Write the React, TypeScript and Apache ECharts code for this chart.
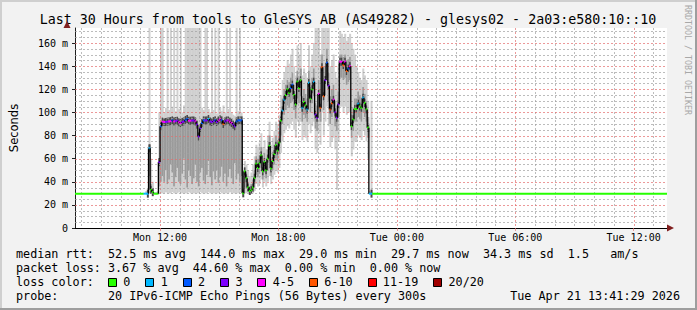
import React, { useEffect, useRef } from 'react';
import * as echarts from 'echarts';

// ---- time frame (hours since Mon 00:00) ----
const graphStartHour = 7 + 41 / 60 + 29 / 3600; // Mon 07:41:29
const graphSpanHours = 30;
const firstSampleHour = 11 + 10 / 60; // Mon 11:10
const sampleStepHours = 5 / 60;
const yMaxMs = 173;
const baselineMs = 29.7;

// ---- axis ticks ----
const xTickHours = [12, 18, 24, 30, 36];
const xTickLabels = ['Mon 12:00', 'Mon 18:00', 'Tue 00:00', 'Tue 06:00', 'Tue 12:00'];

// ---- median rtt (ms) per 5-minute step from Mon 11:10; last value lasts to the end ----
const medianMs = [
  29.7, 29.7, 29.7, 69, 33, 31, 29.7, 29.7, 29.7, 57,
  88, 92, 91.7, 91.7, 92, 92.2, 92.5, 93.1, 92.2, 92.5,
  92.8, 91.5, 90.8, 91.8, 92.2, 93.5, 94.3, 92.8, 92.8, 93,
  93, 92.2, 89.4, 79.2, 86.5, 90.8, 93.1, 93, 93.1, 94.3,
  92.2, 91.7, 92.5, 93.1, 91.7, 93, 94, 93.1, 90, 92.2,
  93, 93, 92, 90.8, 89.4, 88, 92.2, 93.1, 93.1, 93.1,
  30, 49, 43, 35, 32, 33, 35, 43.5, 55.6, 52,
  56, 62.8, 49, 57, 50, 60, 71, 51.6, 58, 64,
  71.5, 67, 74, 93, 101.7, 111, 115, 120, 117, 121,
  124, 115, 107, 126.5, 121, 127.7, 104, 109, 106, 102.6,
  125.7, 111.8, 120, 126.5, 98, 95.4, 116, 104, 139, 114,
  128, 143, 123, 102.6, 108, 111, 100, 95.4, 107, 143.8,
  143.8, 141, 143.8, 135.8, 138, 140, 88, 94, 103, 103,
  107.5, 105, 104, 112.7, 108, 102.6, 86.8, 29.7, 29.7, 29.7,
];

// ---- lost pings (of 20) per step ----
const lossCount = [
  1, 1, 1, 1, 0, 0, 0, 0, 0, 3,
  2, 5, 5, 3, 3, 5, 5, 2, 5, 3,
  3, 5, 5, 3, 3, 2, 2, 5, 5, 3,
  3, 5, 3, 3, 3, 2, 2, 3, 3, 1,
  3, 3, 3, 2, 3, 5, 5, 2, 8, 3,
  3, 5, 5, 5, 3, 3, 2, 2, 2, 2,
  0, 0, 0, 0, 0, 0, 0, 0, 0, 0,
  0, 0, 0, 0, 0, 0, 0, 0, 0, 0,
  0, 0, 0, 0, 1, 1, 0, 0, 0, 2,
  2, 0, 0, 0, 0, 0, 1, 0, 0, 1,
  1, 0, 0, 1, 3, 3, 5, 8, 8, 8,
  3, 2, 3, 8, 8, 5, 3, 3, 3, 5,
  5, 8, 5, 8, 2, 5, 0, 0, 0, 0,
  1, 0, 0, 1, 0, 0, 0, 1, 1, 0,
];

// ---- smoke: lowest ping, lower / upper dense band, highest ping (ms) ----
const smokeMin = [
  29.7, 29.5, 29.5, 30, 30, 29.5, 29.5, 29.5, 29.5, 30,
  30, 30, 30, 31, 30, 30, 30, 31, 30, 30,
  30, 31, 30, 30, 30, 30, 30, 31, 30, 30,
  30, 30, 30, 30, 31, 30, 30, 30, 30, 31,
  30, 30, 30, 30, 30, 30, 31, 30, 30, 30,
  30, 30, 31, 30, 30, 30, 30, 30, 31, 30,
  29.5, 30, 30, 30, 30, 30, 30, 32, 38, 36,
  38, 42, 35, 40, 36, 40, 45, 38, 42, 46,
  50, 48, 52, 65, 75, 82, 85, 88, 86, 90,
  92, 85, 78, 92, 88, 92, 76, 80, 78, 75,
  90, 82, 88, 92, 68, 65, 82, 72, 100, 80,
  92, 105, 88, 70, 75, 78, 68, 33, 75, 105,
  105, 100, 105, 98, 100, 100, 62, 68, 75, 75,
  80, 78, 76, 84, 80, 75, 60, 29.5, 29.5, 29.7,
];
const smokeLowQ = [
  29.7, 29.7, 29.7, 45, 31, 30, 29.7, 29.7, 29.7, 36,
  40, 45, 40, 50, 38, 42, 55, 48, 36, 44,
  52, 40, 38, 47, 60, 42, 35, 50, 45, 38,
  43, 55, 40, 36, 48, 52, 41, 38, 46, 58,
  44, 37, 49, 42, 50, 39, 45, 53, 40, 47,
  36, 44, 51, 43, 38, 56, 42, 47, 40, 45,
  30, 35, 34, 32, 31, 31, 32, 38, 46, 44,
  47, 52, 42, 48, 43, 50, 58, 45, 50, 55,
  60, 58, 64, 80, 90, 98, 102, 106, 104, 108,
  110, 102, 95, 112, 108, 114, 92, 98, 95, 92,
  112, 100, 108, 114, 86, 84, 104, 92, 125, 102,
  115, 130, 110, 90, 96, 100, 88, 84, 96, 130,
  130, 128, 130, 124, 126, 128, 78, 84, 92, 92,
  96, 94, 92, 100, 96, 92, 78, 29.7, 29.7, 29.7,
];
const smokeHighQ = [
  29.7, 30.2, 30.5, 72, 38, 33, 30.2, 30.2, 30.5, 60,
  90, 93, 92.7, 92.7, 93, 93.2, 93.5, 94, 93.2, 93.5,
  93.8, 92.5, 91.8, 92.8, 93.2, 94.5, 95.3, 93.8, 93.8, 94,
  94, 93.2, 90.4, 80.5, 87.5, 91.8, 94.1, 94, 94.1, 95.3,
  93.2, 92.7, 93.5, 94.1, 92.7, 94, 95, 94.1, 91, 93.2,
  94, 94, 93, 91.8, 90.4, 89, 93.2, 94.1, 94.1, 94.1,
  31, 52, 48, 40, 36, 38, 42, 50, 62, 60,
  63, 70, 58, 65, 58, 68, 80, 60, 66, 72,
  80, 76, 84, 100, 112, 120, 124, 128, 126, 130,
  134, 124, 116, 136, 130, 138, 114, 120, 116, 112,
  136, 122, 130, 138, 108, 106, 128, 116, 150, 126,
  140, 155, 134, 114, 120, 124, 110, 106, 118, 150,
  150, 148, 150, 145, 146, 148, 98, 104, 112, 112,
  118, 114, 112, 122, 116, 110, 96, 30.5, 31, 29.7,
];
const smokeMax = [
  29.7, 32, 34, 175, 60, 40, 31, 31, 32, 100,
  175, 175, 100, 104, 175, 102, 175, 105, 175, 101,
  175, 103, 175, 100, 106, 175, 175, 175, 175, 175,
  175, 175, 175, 175, 175, 104, 102, 175, 175, 103,
  100, 175, 102, 175, 99, 175, 104, 101, 106, 100,
  175, 103, 175, 100, 98, 97, 175, 101, 175, 100,
  35, 58, 55, 50, 45, 48, 55, 62, 72, 70,
  74, 82, 70, 76, 68, 80, 92, 72, 78, 84,
  92, 90, 98, 115, 128, 135, 140, 145, 142, 150,
  155, 140, 132, 158, 150, 160, 132, 138, 134, 130,
  158, 140, 150, 160, 175, 175, 175, 150, 175, 175,
  175, 175, 175, 140, 145, 150, 135, 130, 140, 170,
  168, 165, 168, 162, 165, 168, 160, 155, 150, 140,
  135, 130, 128, 138, 132, 128, 110, 32, 110, 29.7,
];

// ---- loss colour legend ----
const lossLabels = ['0', '1', '2', '3', '4-5', '6-10', '11-19', '20/20'];
const lossUpTo = [0, 1, 2, 3, 5, 10, 19, 20];
const lossColors = ['#26ff00', '#00b8ff', '#0059ff', '#7e00ff', '#ff00ff', '#ff5500', '#ff0000', '#a00000'];

// ---- texts ----
const titleText = 'Last 30 Hours from tools to GleSYS AB (AS49282) - glesys02 - 2a03:e580:10::10';
const medianLine = 'median rtt:  52.5 ms avg  144.0 ms max  29.0 ms min  29.7 ms now  34.3 ms sd  1.5   am/s';
const lossLine = 'packet loss: 3.67 % avg  44.60 % max  0.00 % min  0.00 % now';
const probeLine = 'probe:       20 IPv6-ICMP Echo Pings (56 Bytes) every 300s';
const dateText = 'Tue Apr 21 13:41:29 2026';
const watermark = 'RRDTOOL / TOBI OETIKER';

const MONO = '"DejaVu Sans Mono", monospace';
const nb = (s: string) => s.replace(/ /g, '\u00a0');

function lossColor(l: number) {
  for (let i = 0; i < lossUpTo.length; i++) if (l <= lossUpTo[i]) return lossColors[i];
  return lossColors[lossColors.length - 1];
}

export default function App() {
  const ref = useRef<HTMLDivElement>(null);
  useEffect(() => {
    const chart = echarts.init(ref.current!, null, { renderer: 'svg' });
    const endHour = graphStartHour + graphSpanHours;

    const items: number[][] = [];
    items.push([graphStartHour, firstSampleHour, baselineMs, baselineMs, baselineMs, baselineMs, baselineMs, 0, baselineMs]);
    const n = medianMs.length;
    for (let k = 0; k < n; k++) {
      const t0 = firstSampleHour + k * sampleStepHours;
      const t1 = k === n - 1 ? endHour : t0 + sampleStepHours;
      const prev = k === 0 ? baselineMs : medianMs[k - 1];
      items.push([t0, t1, smokeMin[k], smokeLowQ[k], smokeHighQ[k], smokeMax[k], medianMs[k], lossCount[k], prev]);
    }

    // grid lines: vertical [hour, 1, major], horizontal [start, ms, major]
    const vGrid: number[][] = [];
    for (let h = Math.ceil(graphStartHour); h < endHour; h++) vGrid.push([h, 1, h % 6 === 0 ? 1 : 0]);
    const hGrid: number[][] = [];
    for (let v = 5; v < yMaxMs; v += 5) hGrid.push([graphStartHour + 1, v, v % 20 === 0 ? 1 : 0]);
    const gridMinor = 'rgba(160,160,160,0.7)';
    const gridMajor = 'rgba(228,110,110,0.7)';

    const graphics: any[] = [];
    graphics.push({ type: 'rect', shape: { x: 0, y: 0, width: 697, height: 2 }, style: { fill: '#cfcfcf' }, silent: true });
    graphics.push({ type: 'rect', shape: { x: 0, y: 0, width: 2, height: 310 }, style: { fill: '#cfcfcf' }, silent: true });
    graphics.push({ type: 'rect', shape: { x: 0, y: 308, width: 697, height: 2 }, style: { fill: '#9e9e9e' }, silent: true });
    graphics.push({ type: 'rect', shape: { x: 695, y: 0, width: 2, height: 310 }, style: { fill: '#9e9e9e' }, silent: true });
    graphics.push({ type: 'text', x: 348, y: 19, style: { text: nb(titleText), fill: '#000', font: `13.3px ${MONO}`, align: 'center', verticalAlign: 'middle' } });
    graphics.push({ type: 'text', x: 688, y: 5, rotation: -Math.PI / 2, style: { text: nb(watermark), fill: '#a8a8a8', font: `8.3px ${MONO}`, align: 'left', verticalAlign: 'middle' } });
    graphics.push({ type: 'polygon', shape: { points: [[63.5, 28], [70.5, 28], [67, 21]] }, style: { fill: '#801f1f' }, z: 10 });
    graphics.push({ type: 'polygon', shape: { points: [[667, 224.5], [667, 231.5], [674, 228]] }, style: { fill: '#801f1f' }, z: 10 });
    const lf = `11.75px ${MONO}`;
    graphics.push({ type: 'text', x: 16, y: 254.3, style: { text: nb(medianLine), fill: '#000', font: lf, align: 'left', verticalAlign: 'middle' } });
    graphics.push({ type: 'text', x: 16, y: 268.3, style: { text: nb(lossLine), fill: '#000', font: lf, align: 'left', verticalAlign: 'middle' } });
    graphics.push({ type: 'text', x: 16, y: 282.3, style: { text: nb('loss color:'), fill: '#000', font: lf, align: 'left', verticalAlign: 'middle' } });
    let bx = 108;
    const cw = 7.07;
    lossLabels.forEach((lab, i) => {
      graphics.push({ type: 'rect', shape: { x: Math.round(bx) + 0.5, y: 278.5, width: 8, height: 8 }, style: { fill: lossColors[i], stroke: '#000', lineWidth: 1 } });
      const lx = bx + 15.3;
      graphics.push({ type: 'text', x: lx, y: 282.3, style: { text: lab, fill: '#000', font: lf, align: 'left', verticalAlign: 'middle' } });
      bx = lx + lab.length * cw + 15;
    });
    graphics.push({ type: 'text', x: 16, y: 296, style: { text: nb(probeLine), fill: '#000', font: lf, align: 'left', verticalAlign: 'middle' } });
    graphics.push({ type: 'text', x: 680, y: 296, style: { text: nb(dateText), fill: '#000', font: lf, align: 'right', verticalAlign: 'middle' } });

    const gridRender = (vertical: boolean) => (params: any, api: any) => {
      const cs = params.coordSys;
      const stroke = api.value(2) ? gridMajor : gridMinor;
      const p = api.coord([api.value(0), api.value(1)]);
      if (vertical) {
        const x = Math.round(p[0]) + 0.5;
        return { type: 'line', shape: { x1: x, y1: cs.y, x2: x, y2: cs.y + cs.height }, style: { stroke, lineWidth: 1, lineDash: [2, 2] } };
      }
      const y = Math.round(p[1]) + 0.5;
      return { type: 'line', shape: { x1: cs.x, y1: y, x2: cs.x + cs.width, y2: y }, style: { stroke, lineWidth: 1, lineDash: [2, 2] } };
    };

    const option: any = {
      animation: false,
      backgroundColor: '#f2f2f2',
      grid: { left: 67, top: 28, width: 600, height: 200, show: true, backgroundColor: '#ffffff', borderWidth: 0, containLabel: false },
      xAxis: {
        type: 'value',
        min: graphStartHour,
        max: endHour,
        axisLine: { show: true, onZero: false, lineStyle: { color: '#000', width: 1 } },
        axisTick: { show: true, customValues: xTickHours, length: 3, lineStyle: { color: gridMajor } },
        axisLabel: {
          customValues: xTickHours,
          formatter: (v: number) => { const i = xTickHours.indexOf(v); return i >= 0 ? xTickLabels[i] : ''; },
          fontFamily: MONO, fontSize: 10, color: '#000', margin: 4,
        },
        splitLine: { show: false },
      },
      yAxis: {
        type: 'value',
        min: 0,
        max: yMaxMs,
        interval: 20,
        axisLine: { show: true, lineStyle: { color: '#1f1f1f', width: 1 } },
        axisTick: { show: true, length: 3, lineStyle: { color: '#1f1f1f' } },
        axisLabel: {
          showMaxLabel: false,
          formatter: (v: number) => (v % 20 !== 0 ? '' : v === 0 ? '0' : `${v} m`),
          fontFamily: MONO, fontSize: 10, color: '#000', margin: 7,
        },
        splitLine: { show: false },
        name: 'Seconds',
        nameLocation: 'middle',
        nameRotate: 90,
        nameGap: 55,
        nameTextStyle: { fontFamily: '"DejaVu Sans", sans-serif', fontSize: 11.5, color: '#000' },
      },
      series: [
        {
          type: 'custom',
          name: 'smoke',
          z: 2,
          silent: true,
          clip: true,
          data: items,
          encode: { x: [0, 1], y: [2, 5] },
          renderItem: (params: any, api: any) => {
            const t0 = api.value(0), t1 = api.value(1);
            const mn = api.value(2), lq = api.value(3), hq = api.value(4), mx = api.value(5), med = api.value(6);
            const xa = api.coord([t0, 0])[0];
            const xb = api.coord([t1, 0])[0];
            const Y = (v: number) => api.coord([t0, Math.min(v, yMaxMs + 2)])[1];
            const w = xb - xa + 0.35;
            const ch: any[] = [];
            if (mx > mn) ch.push({ type: 'rect', shape: { x: xa, y: Y(mx), width: w, height: Y(mn) - Y(mx) }, style: { fill: '#d0d0d0' } });
            if (hq > lq) ch.push({ type: 'rect', shape: { x: xa, y: Y(hq), width: w, height: Y(lq) - Y(hq) }, style: { fill: '#9a9a9a' } });
            if (mx > mn + 3) ch.push({ type: 'rect', shape: { x: xa, y: Y(med) - 4, width: w, height: 8 }, style: { fill: '#4a4a4a' } });
            return { type: 'group', children: ch };
          },
        },
        {
          type: 'custom',
          name: 'vgrid',
          z: 3,
          silent: true,
          data: vGrid,
          encode: { x: 0, y: 1 },
          renderItem: gridRender(true),
        },
        {
          type: 'custom',
          name: 'hgrid',
          z: 3,
          silent: true,
          data: hGrid,
          encode: { x: 0, y: 1 },
          renderItem: gridRender(false),
        },
        {
          type: 'custom',
          name: 'median',
          z: 4,
          silent: true,
          clip: true,
          data: items,
          encode: { x: [0, 1], y: 6 },
          renderItem: (params: any, api: any) => {
            const t0 = api.value(0), t1 = api.value(1);
            const med = api.value(6), loss = api.value(7), prev = api.value(8);
            const xa = api.coord([t0, 0])[0];
            const xb = api.coord([t1, 0])[0];
            const Y = (v: number) => api.coord([t0, v])[1];
            const ch: any[] = [];
            if (Math.abs(prev - med) > 0.5) {
              ch.push({ type: 'line', shape: { x1: xa, y1: Y(prev), x2: xa, y2: Y(med) }, style: { stroke: '#000', lineWidth: 1.3 } });
            }
            ch.push({ type: 'rect', shape: { x: xa, y: Y(med) - 1, width: xb - xa + 0.2, height: 2 }, style: { fill: lossColor(loss) } });
            return { type: 'group', children: ch };
          },
        },
      ],
      graphic: graphics,
    };
    chart.setOption(option);
    return () => chart.dispose();
  }, []);
  return <div ref={ref} style={{ position: 'absolute', left: 0, top: 0, width: 697, height: 310 }} />;
}
